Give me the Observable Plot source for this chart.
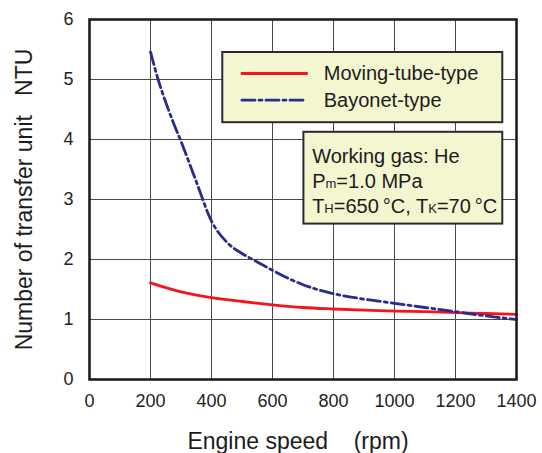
<!DOCTYPE html>
<html>
<head>
<meta charset="utf-8">
<script src="https://cdn.jsdelivr.net/npm/d3@7"></script>
<script src="https://cdn.jsdelivr.net/npm/@observablehq/plot@0.6"></script>
<style>
  html, body { margin: 0; padding: 0; background: #fff; }
</style>
</head>
<body>
<div id="chart"></div>
<script>
// ---- data ----
const seriesNames = ["Moving-tube-type", "Bayonet-type"];
const movingSpeed = [200, 300, 400, 500, 600, 700, 800, 900, 1000, 1100, 1200, 1300, 1400];
const movingNTU   = [1.61, 1.46, 1.365, 1.3, 1.245, 1.2, 1.175, 1.155, 1.14, 1.13, 1.115, 1.1, 1.085];
const bayonetSpeed = [200, 225, 250, 275, 300, 350, 400, 450, 500, 550, 600, 650, 700, 800, 900, 1000, 1100, 1200, 1300, 1400];
const bayonetNTU   = [5.46, 5.0, 4.62, 4.28, 3.97, 3.3, 2.64, 2.29, 2.10, 1.96, 1.82, 1.69, 1.58, 1.43, 1.34, 1.27, 1.2, 1.13, 1.06, 1.0];
const xTicks = [0, 200, 400, 600, 800, 1000, 1200, 1400];
const yTicks = [0, 1, 2, 3, 4, 5, 6];
const xLabel = "Engine speed\u00a0\u00a0\u00a0\u00a0(rpm)";
const yLabel = "Number of transfer unit\u00a0\u00a0\u00a0NTU";
const noteLines = ["Working gas: He", "P_{m}=1.0 MPa", "T_{H}=650\u2009\u00b0C, T_{K}=70\u2009\u00b0C"];

// legend / note placement (data units)
const legendBox = {x1: 437, x2: 1355, y1: 4.28, y2: 5.45};
const noteBox = {x1: 703, x2: 1355, y1: 2.59, y2: 4.12};
const legendSampleX = [500, 712];
const legendRowY = [5.10, 4.655];
const legendTextX = 768;
const noteTextX = 730;
const noteRowY = [3.72, 3.30, 2.89];

const colors = {"Moving-tube-type": "#f5141c", "Bayonet-type": "#2b2a8e"};
const dash = {"Moving-tube-type": null, "Bayonet-type": "13,4,3,4"};

const moving = movingSpeed.map((s, i) => ({speed: s, ntu: movingNTU[i], series: seriesNames[0]}));
const bayonet = bayonetSpeed.map((s, i) => ({speed: s, ntu: bayonetNTU[i], series: seriesNames[1]}));
const legendRows = seriesNames.flatMap((name, i) => legendSampleX.map(x => ({x, y: legendRowY[i], series: name})));
const legendTexts = seriesNames.map((name, i) => ({x: legendTextX, y: legendRowY[i], text: name}));
const noteTexts = noteLines.map((t, i) => ({x: noteTextX, y: noteRowY[i], text: t}));

const font = "'Liberation Sans', Arial, Helvetica, sans-serif";

const chart = Plot.plot({
  width: 542,
  height: 453,
  marginLeft: 89,
  marginRight: 26,
  marginTop: 19,
  marginBottom: 74,
  style: {fontFamily: font, background: "#fff", color: "#222"},
  x: {domain: [0, 1400]},
  y: {domain: [0, 6]},
  marks: [
    Plot.gridX(xTicks, {stroke: "#4a4a4a", strokeOpacity: 1, strokeWidth: 1}),
    Plot.gridY(yTicks, {stroke: "#4a4a4a", strokeOpacity: 1, strokeWidth: 1}),
    Plot.axisX(xTicks, {tickSize: 0, tickPadding: 15, fontSize: 18, label: null, tickFormat: d => String(d), fill: "#222"}),
    Plot.axisY(yTicks, {tickSize: 0, tickPadding: 16, fontSize: 18, label: null, tickFormat: d => String(d), fill: "#222"}),
    Plot.line(moving, {x: "speed", y: "ntu", stroke: colors[seriesNames[0]], strokeWidth: 2.8, curve: "monotone-x"}),
    Plot.line(bayonet, {x: "speed", y: "ntu", stroke: colors[seriesNames[1]], strokeWidth: 2.8, strokeDasharray: dash[seriesNames[1]], curve: "monotone-x"}),
    Plot.frame({stroke: "#1e1e1e", strokeWidth: 2.6}),
    // legend box
    Plot.rect([legendBox], {x1: "x1", x2: "x2", y1: "y1", y2: "y2", fill: "#f4f6d0", stroke: "#2a2a2a", strokeWidth: 2}),
    Plot.line(legendRows.filter(d => d.series === seriesNames[0]), {x: "x", y: "y", stroke: colors[seriesNames[0]], strokeWidth: 2.8}),
    Plot.line(legendRows.filter(d => d.series === seriesNames[1]), {x: "x", y: "y", stroke: colors[seriesNames[1]], strokeWidth: 2.8, strokeDasharray: dash[seriesNames[1]]}),
    Plot.text(legendTexts, {x: "x", y: "y", text: "text", textAnchor: "start", fontSize: 20, fill: "#1c1c1c"}),
    // note box
    Plot.rect([noteBox], {x1: "x1", x2: "x2", y1: "y1", y2: "y2", fill: "#f4f6d0", stroke: "#2a2a2a", strokeWidth: 2}),
    Plot.text(noteTexts, {x: "x", y: "y", text: "text", textAnchor: "start", fontSize: 20, fill: "#1c1c1c"}),
    // axis titles
    Plot.text([xLabel], {frameAnchor: "bottom", textAnchor: "middle", dx: -5, dy: 69, lineAnchor: "bottom", fontSize: 23, fill: "#1c1c1c"}),
    Plot.text([yLabel], {frameAnchor: "left", textAnchor: "middle", dx: -65, rotate: -90, lineAnchor: "middle", fontSize: 23, fill: "#1c1c1c"})
  ]
});

// render subscripts marked as _{...}
d3.select(chart).selectAll("text").each(function() {
  const el = d3.select(this);
  const t = this.textContent;
  if (!t || t.indexOf("_{") < 0) return;
  el.text(null);
  const re = /_\{([^}]*)\}/g;
  let last = 0, m;
  while ((m = re.exec(t)) !== null) {
    if (m.index > last) el.append("tspan").text(t.slice(last, m.index));
    el.append("tspan").attr("font-size", 13).text(m[1]);
    last = m.index + m[0].length;
  }
  if (last < t.length) el.append("tspan").text(t.slice(last));
});

document.getElementById("chart").appendChild(chart);
</script>
</body>
</html>
